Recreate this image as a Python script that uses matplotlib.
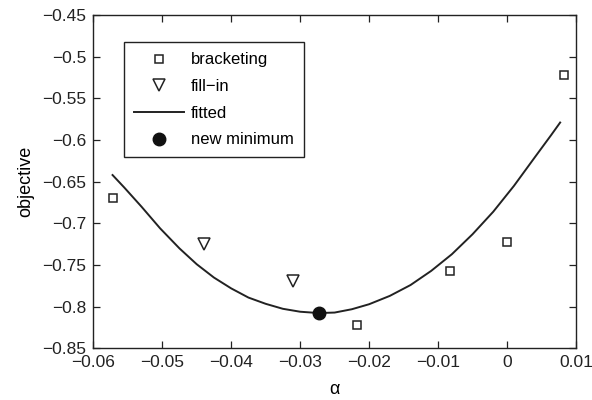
import numpy as np
import matplotlib
matplotlib.use("Agg")
import matplotlib.pyplot as plt
from matplotlib.ticker import FuncFormatter

plt.rcParams.update({
    "font.family": ["Liberation Sans", "DejaVu Sans"],
    "font.size": 12,
    "axes.linewidth": 1.0,
})

# bracketing points
brack_x = [-0.0572, -0.0217, -0.0083, 0.0000, 0.0083]
brack_y = [-0.670, -0.8215, -0.7567, -0.7223, -0.5225]

# fill-in points
fill_x = [-0.0440, -0.0310]
fill_y = [-0.7250, -0.7690]

# fitted curve
fit_x = [-0.0572, -0.0555, -0.0530, -0.0503, -0.0475, -0.0450, -0.0425, -0.0400,
         -0.0375, -0.0350, -0.0325, -0.0300, -0.0273, -0.0250, -0.0225, -0.0200,
         -0.0170, -0.0140, -0.0110, -0.0080, -0.0050, -0.0020, 0.0010, 0.0040,
         0.0064, 0.0077]
fit_y = [-0.642, -0.657, -0.680, -0.706, -0.730, -0.749, -0.765, -0.778,
         -0.789, -0.7965, -0.8025, -0.806, -0.8076, -0.807, -0.803, -0.797,
         -0.787, -0.774, -0.757, -0.737, -0.713, -0.686, -0.655, -0.621,
         -0.594, -0.579]

# new minimum
min_x = [-0.0273]
min_y = [-0.8080]

xticks = [-0.06, -0.05, -0.04, -0.03, -0.02, -0.01, 0, 0.01]
yticks = [-0.85, -0.8, -0.75, -0.7, -0.65, -0.6, -0.55, -0.5, -0.45]

fig = plt.figure(figsize=(5.92, 4.0), dpi=100)
ax = fig.add_axes([0.1575, 0.129, 0.8155, 0.8335])

ax.plot(brack_x, brack_y, "s", ms=6, mfc="white", mec="#222222", mew=1.1,
        ls="none", label="bracketing")
ax.plot(fill_x, fill_y, "v", ms=9, mfc="white", mec="#222222", mew=1.1,
        ls="none", label="fill\u2212in")
ax.plot(fit_x, fit_y, "-", color="#222222", lw=1.4, label="fitted",
        solid_joinstyle="round")
ax.plot(min_x, min_y, "o", ms=9, color="#111111", ls="none", label="new minimum")

ax.set_xlim(-0.06, 0.01)
ax.set_ylim(-0.85, -0.45)
ax.set_xticks(xticks)
ax.set_yticks(yticks)
fmt = FuncFormatter(lambda v, p: f"{v:g}".replace("-", "\u2212"))
ax.xaxis.set_major_formatter(fmt)
ax.yaxis.set_major_formatter(fmt)
ax.tick_params(direction="in", top=True, right=True, length=5, width=0.9,
               labelsize=12.5, colors="#222222", pad=5)
for s in ax.spines.values():
    s.set_color("#222222")

ax.set_xlabel("\u03b1", fontsize=13, labelpad=8)
ax.set_ylabel("objective", fontsize=13, labelpad=6)

leg = ax.legend(loc="upper left", bbox_to_anchor=(0.064, 0.918), borderaxespad=0,
                fancybox=False, framealpha=1, edgecolor="#222222",
                handlelength=3.0, handletextpad=0.4, labelspacing=0.7,
                borderpad=0.6, fontsize=12)
leg.get_frame().set_linewidth(1.0)

fig.savefig("out.png", dpi=100)
